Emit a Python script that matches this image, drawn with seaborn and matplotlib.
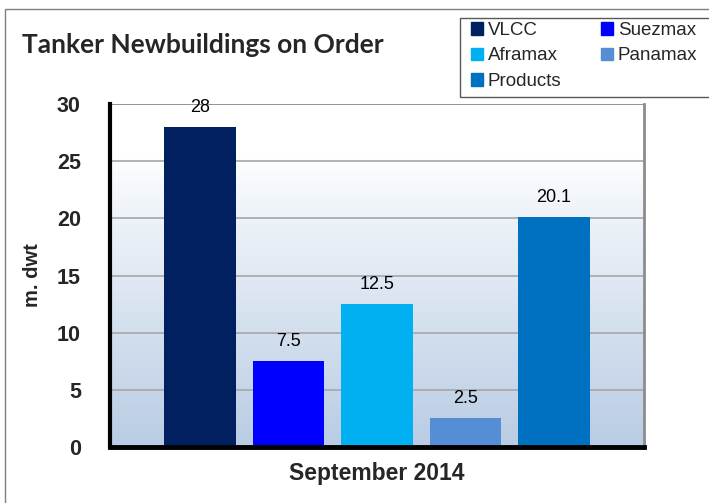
import numpy as np
import pandas as pd
import matplotlib
matplotlib.use("Agg")
import matplotlib.pyplot as plt
import matplotlib.patches as mpatches
from matplotlib.colors import LinearSegmentedColormap
import seaborn as sns

categories = ["VLCC", "Suezmax", "Aframax", "Panamax", "Products"]
values = [28, 7.5, 12.5, 2.5, 20.1]
labels = ["28", "7.5", "12.5", "2.5", "20.1"]
colors = ["#002060", "#0000FF", "#00B0F0", "#558ED5", "#0070C0"]
yticks = [0, 5, 10, 15, 20, 25, 30]

sns.set_theme(style="white")
plt.rcParams["font.family"] = ["Liberation Sans", "DejaVu Sans"]

fig = plt.figure(figsize=(7.09, 5.03), dpi=100)
ax = fig.add_axes([110/709, 1-447/503, (644-110)/709, (447-104)/503])

df = pd.DataFrame({"type": categories, "value": values})
sns.barplot(data=df, x="type", y="value", hue="type", palette=colors,
            width=0.81, dodge=False, legend=False, ax=ax, zorder=3,
            saturation=1, linewidth=0)

# gradient background
cmap = LinearSegmentedColormap.from_list("bg", [(0, "#B9CCE4"), (0.75, "#F4F7FB"), (0.85, "#FFFFFF"), (1, "#FFFFFF")])
grad = np.linspace(0, 1, 256).reshape(-1, 1)
ax.imshow(grad, cmap=cmap, aspect="auto", origin="lower",
          extent=[0, 1, 0, 1], transform=ax.transAxes, zorder=0)

ax.set_xlim(-1.02, 5.02)
ax.set_ylim(0, 30)
ax.set_yticks(yticks)
ax.set_yticklabels([str(t) for t in yticks], fontsize=15.5, fontweight="bold")
ax.set_xticks([])
for t in yticks[1:]:
    ax.axhline(t, color="#A6A6A6" if t < 30 else "#808080", lw=1.2, zorder=1)
ax.tick_params(axis="y", length=0, pad=21)
ax.set_ylabel("m. dwt", fontsize=14.5, fontweight="bold", labelpad=11)
ax.set_xlabel("September 2014", fontsize=16.5, fontweight="bold", labelpad=11)

ax.spines["left"].set_color("black")
ax.spines["left"].set_linewidth(3)
ax.spines["bottom"].set_color("black")
ax.spines["bottom"].set_linewidth(3.5)
ax.spines["right"].set_color("#8C8C8C")
ax.spines["right"].set_linewidth(2)
ax.spines["top"].set_visible(False)
for s in ax.spines.values():
    s.set_zorder(5)

for i, (v, lab) in enumerate(zip(values, labels)):
    ax.annotate(lab, (i, v), xytext=(0, 8), textcoords="offset points",
                ha="center", va="bottom", fontsize=13, color="black", zorder=6)

# Figure border (open on right and bottom)
fig.patches.append(mpatches.Rectangle((5/709, -0.1), 1.2, 1-9/503+0.1,
                   transform=fig.transFigure, fill=False, edgecolor="#7F7F7F", lw=1))

fig.text(22/709, 1-45/503, "Tanker Newbuildings on Order", fontsize=19, fontweight="bold",
         family=["Lato", "DejaVu Sans"], va="center", ha="left")

# legend frame (extends beyond right edge)
fig.patches.append(mpatches.Rectangle((460/709, 1-97/503), 0.5, 79/503,
                   transform=fig.transFigure, fill=False, edgecolor="#595959", lw=1))
handles = [mpatches.Patch(color=c, label=n) for c, n in zip(colors, categories)]
order = [0, 2, 4, 1, 3]
leg = fig.legend([handles[i] for i in order], [categories[i] for i in order],
                 ncol=2, loc="upper left", bbox_to_anchor=(471/709, 1-22/503),
                 frameon=False, fontsize=13.5, handlelength=0.65, handleheight=0.65,
                 handletextpad=0.25, columnspacing=2.1, labelspacing=0.45,
                 borderpad=0, borderaxespad=0)

fig.savefig("out.png", dpi=100)
